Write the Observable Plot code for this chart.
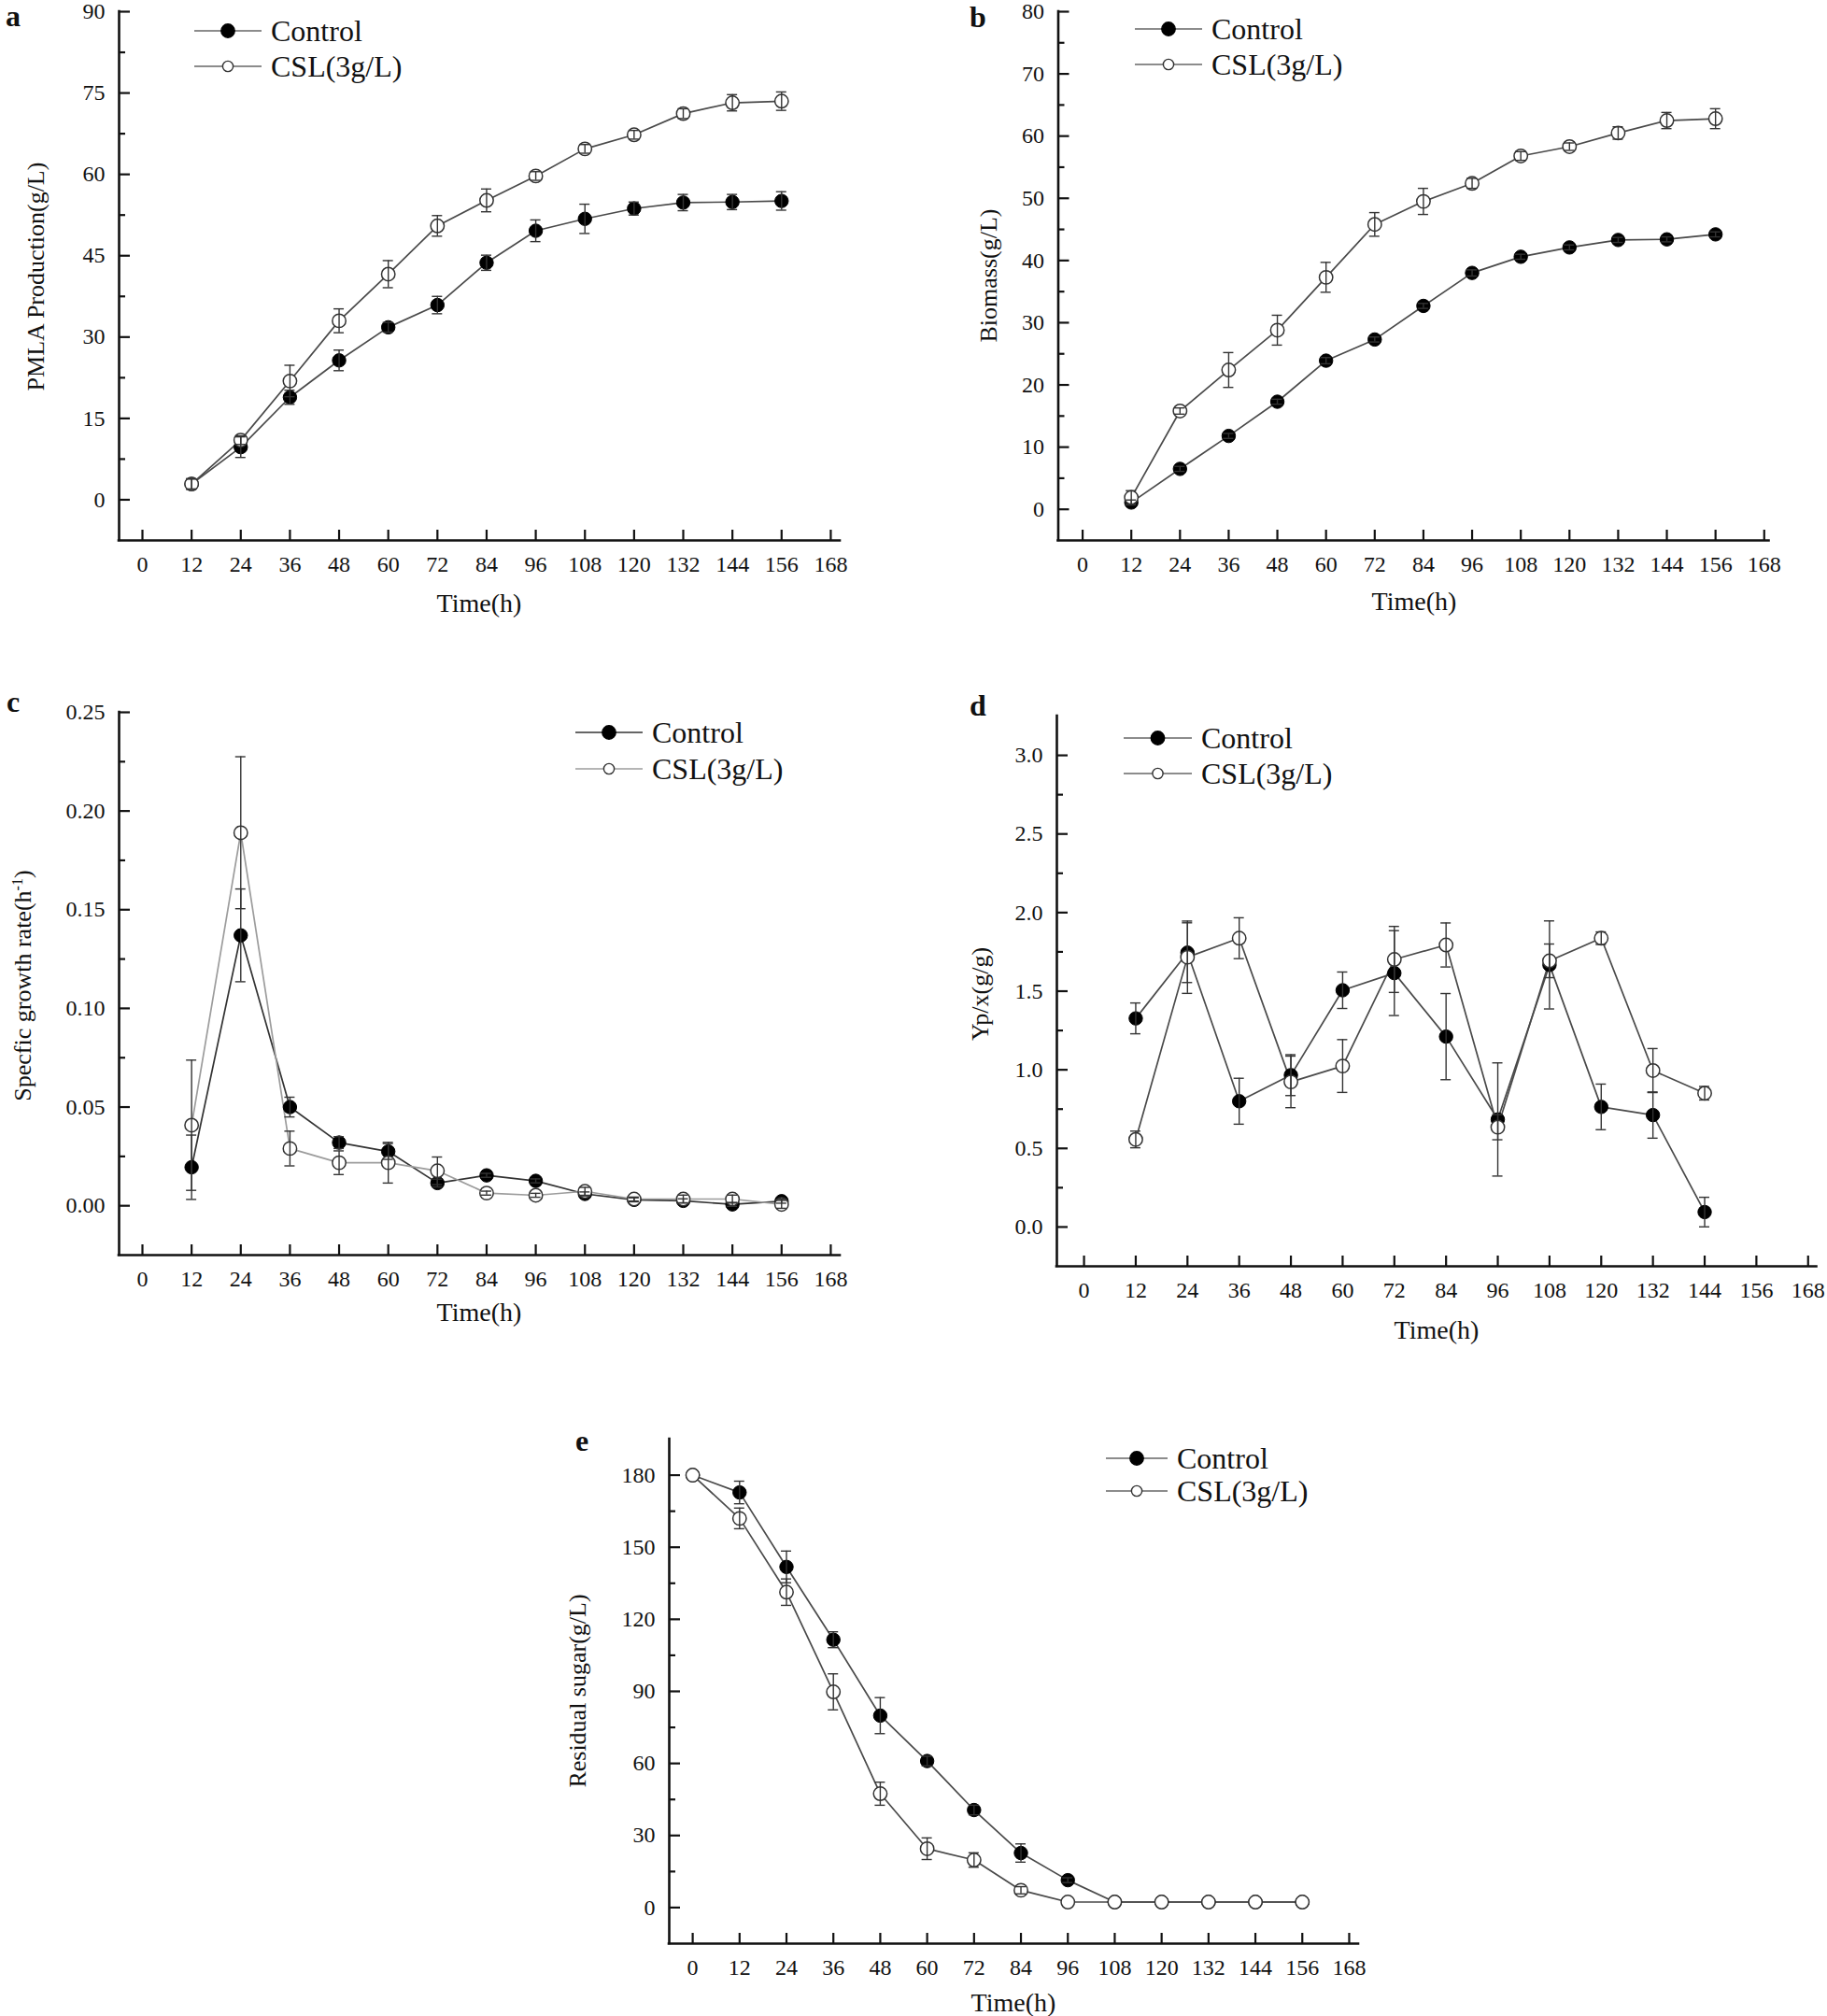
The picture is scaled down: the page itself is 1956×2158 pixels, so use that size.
<!DOCTYPE html>
<html><head><meta charset="utf-8">
<script src="https://cdn.jsdelivr.net/npm/d3@7"></script>
<script src="https://cdn.jsdelivr.net/npm/@observablehq/plot@0.6"></script>
<style>
body{margin:0;background:#fff;}
#root{position:relative;width:1956px;height:2158px;background:#fff;font-family:"Liberation Serif","Times New Roman",serif;color:#111;overflow:hidden;}
.panel{position:absolute;}
.txt{position:absolute;line-height:1;white-space:nowrap;}
.letter{font-weight:bold;font-size:32px;}
.xtitle{font-size:28px;}
.ytitle{font-size:26px;}
.leg{position:absolute;display:flex;align-items:center;white-space:nowrap;font-size:32px;line-height:1;transform:translateY(-50%);}
.leg svg{display:block;flex:none;}
sup{font-size:0.62em;vertical-align:0.55em;line-height:0;}
</style></head>
<body><div id="root"></div>
<script>
// ---------- data ----------
const xTicks = [0,12,24,36,48,60,72,84,96,108,120,132,144,156,168];
const timeMain = [12,24,36,48,60,72,84,96,108,120,132,144,156];
const timeYield = [12,24,36,48,60,72,84,96,108,120,132,144];
const timeSugar = [0,12,24,36,48,60,72,84,96,108,120,132,144,156];
const seriesNames = ["Control","CSL(3g/L)"];

const pmlaControl    = [2.9,9.7,18.9,25.7,31.8,35.9,43.7,49.6,51.8,53.7,54.8,54.9,55.1];
const pmlaControlErr = [0.9,1.9,1.3,1.9,0.9,1.6,1.4,2.0,2.7,1.2,1.5,1.4,1.7];
const pmlaCSL        = [2.9,11.0,21.9,33.0,41.6,50.5,55.2,59.7,64.7,67.3,71.2,73.2,73.5];
const pmlaCSLErr     = [1.0,0.8,2.9,2.2,2.5,1.9,2.1,0.8,0.8,0.8,0.9,1.5,1.7];

const biomassControl    = [1.1,6.5,11.8,17.3,23.9,27.3,32.7,38.0,40.6,42.1,43.3,43.4,44.2];
const biomassControlErr = [0.4,0.4,0.4,0.4,0.5,0.4,0.4,0.5,0.4,0.4,0.4,0.4,0.4];
const biomassCSL        = [1.9,15.8,22.4,28.8,37.3,45.8,49.5,52.4,56.8,58.3,60.5,62.5,62.8];
const biomassCSLErr     = [1.1,0.5,2.8,2.4,2.4,1.9,2.1,0.8,0.7,0.6,1.0,1.3,1.6];

const growthControl    = [0.0195,0.137,0.050,0.032,0.0275,0.0115,0.0154,0.0126,0.006,0.003,0.0025,0.0007,0.0023];
const growthControlErr = [0.0163,0.0235,0.005,0.003,0.004,0.002,0.001,0.001,0.001,0.001,0.001,0.001,0.001];
const growthCSL        = [0.0408,0.189,0.029,0.0218,0.0218,0.0177,0.0064,0.0053,0.0073,0.0034,0.0034,0.0034,0.0007];
const growthCSLErr     = [0.033,0.0385,0.0088,0.006,0.0103,0.007,0.001,0.001,0.002,0.001,0.002,0.002,0.002];

const yieldControl    = [1.327,1.745,0.80,0.966,1.506,1.615,1.211,0.684,1.667,0.764,0.712,0.095];
const yieldControlErr = [0.098,0.19,0.146,0.13,0.116,0.27,0.274,0.36,0.28,0.145,0.147,0.094];
const yieldCSL        = [0.557,1.716,1.837,0.923,1.024,1.702,1.794,0.635,1.693,1.837,0.995,0.851];
const yieldCSLErr     = [0.053,0.23,0.13,0.164,0.168,0.21,0.14,0.08,0.107,0.04,0.14,0.043];

const sugarControl    = [180,172.8,141.8,111.5,79.9,61.0,40.6,22.7,11.4,2.3,2.3,2.3,2.3,2.3];
const sugarControlErr = [0,4.7,6.6,3.3,7.5,2,2,3.8,1,0,0,0,0,0];
const sugarCSL        = [180,162,131.3,89.8,47.4,24.5,19.8,7.2,2.3,2.3,2.3,2.3,2.3,2.3];
const sugarCSLErr     = [0,4.3,5.5,7.5,4.8,4.5,3,1.5,0,0,0,0,0,0];

const yTicksA = [0,15,30,45,60,75,90],          yMinorA = [7.5,22.5,37.5,52.5,67.5,82.5];
const yTicksB = [0,10,20,30,40,50,60,70,80],    yMinorB = [5,15,25,35,45,55,65,75];
const yTicksC = [0,0.05,0.10,0.15,0.20,0.25],   yMinorC = [0.025,0.075,0.125,0.175,0.225];
const yTicksD = [0,0.5,1.0,1.5,2.0,2.5,3.0],    yMinorD = [0.25,0.75,1.25,1.75,2.25,2.75];
const yTicksE = [0,30,60,90,120,150,180],       yMinorE = [15,45,75,105,135,165];

// ---------- layout ----------
const panels = [
  {letter:"a", left:0, top:0, width:980, height:680, frame:{l:127,r:899,t:12,b:578},
   xDomain:[-5.7,170.3], yDomain:[-7.5,90], yTicks:yTicksA, yMinor:yMinorA, fmt:d3.format("d"),
   time:timeMain, ctrl:pmlaControl, ctrlErr:pmlaControlErr, csl:pmlaCSL, cslErr:pmlaCSLErr,
   letterPos:[14,28], xTitle:[513,646], yTitle:[39,296], yText:"PMLA Production(g/L)",
   legend:{x0:208,len:72,y:[33,71]}},
  {letter:"b", left:980, top:0, width:976, height:680, frame:{l:152.5,r:913.5,t:12,b:578},
   xDomain:[-6,169.2], yDomain:[-5,80], yTicks:yTicksB, yMinor:yMinorB, fmt:d3.format("d"),
   time:timeMain, ctrl:biomassControl, ctrlErr:biomassControlErr, csl:biomassCSL, cslErr:biomassCSLErr,
   letterPos:[1047,29], xTitle:[1514,644], yTitle:[1059,295], yText:"Biomass(g/L)",
   legend:{x0:1215,len:72,y:[31,69]}},
  {letter:"c", left:0, top:680, width:980, height:760, frame:{l:127,r:899,t:82,b:663},
   xDomain:[-5.7,170.3], yDomain:[-0.025,0.25], yTicks:yTicksC, yMinor:yMinorC, fmt:d3.format(".2f"),
   time:timeMain, ctrl:growthControl, ctrlErr:growthControlErr, csl:growthCSL, cslErr:growthCSLErr,
   letterPos:[14,762], xTitle:[513,1405], yTitle:[25,1055], yHTML:"Specfic growth rate(h<sup>-1</sup>)",
   legend:{x0:616,len:72,y:[784,823]}, cslLine:"#9c9c9c", ctrlLine:"#333"},
  {letter:"d", left:980, top:680, width:976, height:760, frame:{l:151,r:964.5,t:86,b:675},
   xDomain:[-6.3,170], yDomain:[-0.25,3.25], yTicks:yTicksD, yMinor:yMinorD, fmt:d3.format(".1f"),
   time:timeYield, ctrl:yieldControl, ctrlErr:yieldControlErr, csl:yieldCSL, cslErr:yieldCSLErr,
   letterPos:[1047,766], xTitle:[1538,1424], yTitle:[1050,1064], yText:"Yp/x(g/g)",
   legend:{x0:1203,len:73,y:[790,828]}},
  {letter:"e", left:580, top:1430, width:900, height:728, frame:{l:136,r:874,t:110,b:650},
   xDomain:[-6,170.4], yDomain:[-15,195], yTicks:yTicksE, yMinor:yMinorE, fmt:d3.format("d"),
   time:timeSugar, ctrl:sugarControl, ctrlErr:sugarControlErr, csl:sugarCSL, cslErr:sugarCSLErr,
   letterPos:[623,1553], xTitle:[1085,2144], yTitle:[619,1810], yText:"Residual sugar(g/L)",
   legend:{x0:1184,len:66,y:[1561,1596]}}
];

const root = document.getElementById("root");
const INK = "#111";

function rows(t, v, e) { return t.map((x, i) => ({t: x, v: v[i], e: e[i]})); }

function addText(cls, html, x, y, opts = {}) {
  const d = document.createElement("div");
  d.className = "txt " + cls;
  d.innerHTML = html;
  root.appendChild(d);
  if (opts.rotate) {
    d.style.left = x + "px"; d.style.top = y + "px";
    d.style.transform = "translate(-50%,-50%) rotate(-90deg)";
  } else if (opts.baseline) {
    const fs = parseFloat(getComputedStyle(d).fontSize);
    d.style.left = x + "px"; d.style.top = Math.max(0, y - 0.8375 * fs) + "px";
    d.style.transform = "translateX(-50%)";
  } else {
    d.style.left = x + "px"; d.style.top = y + "px";
    d.style.transform = "translate(-50%,-50%)";
  }
}

function legendRow(x0, len, y, name, filled, lineColor) {
  const d = document.createElement("div");
  d.className = "leg";
  d.style.left = x0 + "px"; d.style.top = y + "px";
  const r = filled ? 7.2 : 5.6;
  d.innerHTML = `<svg width="${len}" height="20" viewBox="0 0 ${len} 20">
    <line x1="0" y1="10" x2="${len}" y2="10" stroke="${lineColor}" stroke-width="1.6"/>
    <circle cx="${len/2}" cy="10" r="${r}" fill="${filled ? "#000" : "#fff"}" stroke="${filled ? "#000" : "#333"}" stroke-width="1.4"/>
  </svg><span style="margin-left:10px">${name}</span>`;
  root.appendChild(d);
}

for (const p of panels) {
  const f = p.frame;
  const plotW = f.r - f.l, plotH = f.b - f.t;
  const cap = 5.5 / (plotW / (p.xDomain[1] - p.xDomain[0]));
  const ctrl = rows(p.time, p.ctrl, p.ctrlErr);
  const csl = rows(p.time, p.csl, p.cslErr);
  const ctrlLine = p.ctrlLine || "#4a4a4a";
  const cslLine = p.cslLine || "#4a4a4a";
  const errMarks = (data) => {
    const d = data.filter(r => r.e > 0);
    const o = {stroke: "#333", strokeWidth: 1.4};
    return [
      Plot.ruleX(d, {x: "t", y1: r => r.v - r.e, y2: r => r.v + r.e, ...o}),
      Plot.ruleY(d, {y: r => r.v + r.e, x1: r => r.t - cap, x2: r => r.t + cap, ...o}),
      Plot.ruleY(d, {y: r => r.v - r.e, x1: r => r.t - cap, x2: r => r.t + cap, ...o})
    ];
  };
  const chart = Plot.plot({
    width: p.width, height: p.height,
    marginLeft: f.l, marginRight: p.width - f.r, marginTop: f.t, marginBottom: p.height - f.b,
    x: {domain: p.xDomain},
    y: {domain: p.yDomain},
    style: {background: "transparent", fontFamily: '"Liberation Serif","Times New Roman",serif', fontSize: "24px", color: INK, overflow: "visible"},
    marks: [
      Plot.tickX(xTicks, {x: d => d, insetTop: plotH - 11, stroke: INK, strokeWidth: 2.2}),
      Plot.tickY(p.yTicks, {y: d => d, insetRight: plotW - 12, stroke: INK, strokeWidth: 2.2}),
      Plot.tickY(p.yMinor, {y: d => d, insetRight: plotW - 7, stroke: INK, strokeWidth: 2.2}),
      Plot.ruleX([p.xDomain[0]], {stroke: INK, strokeWidth: 2.6, strokeLinecap: "square"}),
      Plot.ruleY([p.yDomain[0]], {stroke: INK, strokeWidth: 2.6, strokeLinecap: "square"}),
      Plot.axisX({ticks: xTicks, tickSize: 0, tickPadding: 16, tickFormat: d => String(d), label: null, fontSize: 24}),
      Plot.axisY({ticks: p.yTicks, tickSize: 0, tickPadding: 15, tickFormat: p.fmt, label: null, fontSize: 24}),
      Plot.line(ctrl, {x: "t", y: "v", stroke: ctrlLine, strokeWidth: 1.7}),
      Plot.line(csl, {x: "t", y: "v", stroke: cslLine, strokeWidth: 1.7}),
      Plot.dot(ctrl, {x: "t", y: "v", r: 7.2, fill: "#000", stroke: "#000", strokeWidth: 1}),
      Plot.dot(csl, {x: "t", y: "v", r: 7.2, fill: "#fff", stroke: "#333", strokeWidth: 1.5}),
      ...errMarks(ctrl),
      ...errMarks(csl)
    ]
  });
  const wrap = document.createElement("div");
  wrap.className = "panel";
  wrap.style.left = p.left + "px"; wrap.style.top = p.top + "px";
  wrap.appendChild(chart);
  root.appendChild(wrap);

  addText("letter", p.letter, p.letterPos[0], p.letterPos[1], {baseline: true});
  addText("xtitle", "Time(h)", p.xTitle[0], p.xTitle[1]);
  addText("ytitle", p.yHTML || p.yText, p.yTitle[0], p.yTitle[1], {rotate: true});
  legendRow(p.legend.x0, p.legend.len, p.legend.y[0], seriesNames[0], true, p.ctrlLine || "#666");
  legendRow(p.legend.x0, p.legend.len, p.legend.y[1], seriesNames[1], false, p.cslLine || "#666");
}
</script></body></html>
